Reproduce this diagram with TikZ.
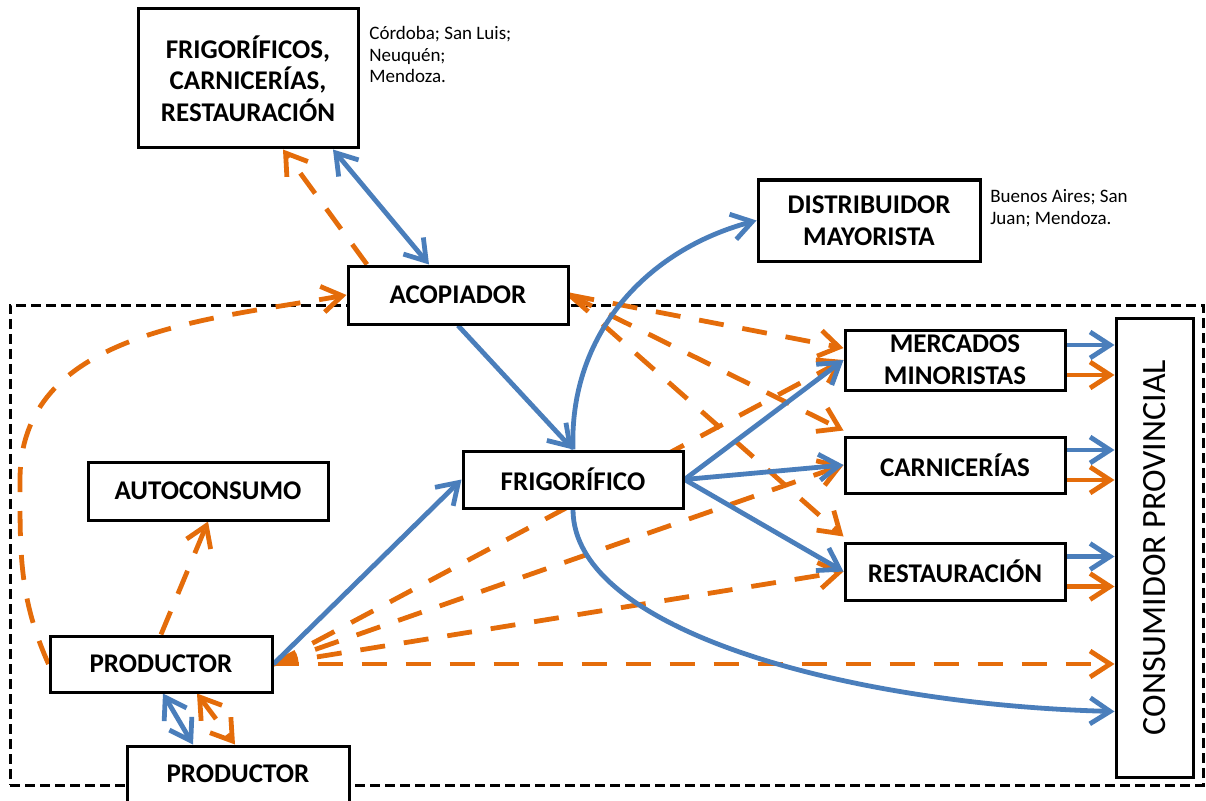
\documentclass[tikz,border=0pt]{standalone}
\usepackage{fontspec}
\setmainfont{Carlito}
\usetikzlibrary{positioning, arrows.meta, backgrounds}
\definecolor{azul}{HTML}{4A7EBB}
\definecolor{naranja}{HTML}{E46C0A}

\begin{document}
\begin{tikzpicture}[x=0.5pt, y=0.5pt, >={Straight Barb[length=10pt, width=13pt]},
		caja/.style={draw, rectangle, line width=1.5pt, fill=white, align=center, inner sep=0pt, font=\bfseries\fontsize{13.5}{15.8}\selectfont},
		nota/.style={anchor=north west, align=left, inner sep=0pt, font=\fontsize{9.5}{10.8}\selectfont},
		flujo/.style={line width=2.4pt, draw=azul},
		flujon/.style={line width=2.4pt, draw=naranja},
		flujod/.style={line width=2.4pt, draw=naranja, dash pattern=on 12.5pt off 9.5pt}]
		\useasboundingbox (0,0) rectangle (1206,800);

		\node[caja, minimum width=110pt, minimum height=69.5pt] (frigs) at (248,721.5) {FRIGORÍFICOS,\\CARNICERÍAS,\\RESTAURACIÓN};
		\node[nota] (notafrigs) at (369,774) {Córdoba; San Luis;\\Neuquén;\\Mendoza.};
		\node[caja, minimum width=111pt, minimum height=40.5pt] (dist) at (869,579.5) {DISTRIBUIDOR\\MAYORISTA};
		\node[nota] (notadist) at (990,611) {Buenos Aires; San\\Juan; Mendoza.};
		\node[caja, minimum width=110pt, minimum height=29pt] (acop) at (458,505) {ACOPIADOR};

		\node[caja, minimum width=110pt, minimum height=30pt] (merc) at (955,440) {MERCADOS\\MINORISTAS};
		\node[caja, minimum width=110pt, minimum height=28pt] (carn) at (955,335) {CARNICERÍAS};
		\node[caja, minimum width=110pt, minimum height=28.5pt] (rest) at (955,228.5) {RESTAURACIÓN};
		\node[caja, minimum width=38.5pt, minimum height=229.5pt] (cons) at (1154.5,252.5) {};
		\node[rotate=90, font=\fontsize{17}{20}\selectfont] (constexto) at (cons.center) {CONSUMIDOR PROVINCIAL};

		\node[caja, minimum width=110pt, minimum height=28.5pt] (frig) at (573,320.5) {FRIGORÍFICO};
		\node[caja, minimum width=120pt, minimum height=29pt] (auto) at (208,309) {AUTOCONSUMO};
		\node[caja, minimum width=111pt, minimum height=28pt] (prod) at (161,136) {PRODUCTOR};
		\node[caja, minimum width=111pt, minimum height=28pt] (prod2) at (238,26) {PRODUCTOR};
		\coordinate (rodeo) at (20,320);

		\begin{pgfonlayer}{background}
		\node[draw, line width=1.5pt, dash pattern=on 5pt off 2.5pt, minimum width=596.5pt, minimum height=240pt, inner sep=0pt] (zona) at (606.5,255) {};

		% naranja
		\draw[flujod, ->] (prod.west) to[out=114, in=-90] (rodeo) to[out=90, in=190] (acop.west);
		\draw[flujod, ->] ([xshift=-45.5pt]acop.north) -- ([xshift=17.5pt]frigs.south);
		\draw[flujod, ->] (prod.north) -- (auto.south);
		\draw[flujod, <->] ([xshift=18pt]prod.south) -- ([xshift=-1.5pt]prod2.north);
		\draw[flujod, ->] (acop.east) -- ([yshift=6pt]merc.west);
		\draw[flujod, ->] (acop.east) -- ([yshift=2.5pt]carn.north west);
		\draw[flujod, ->] (acop.east) -- ([yshift=2.5pt]rest.north west);
		\draw[flujod, ->] (prod.east) -- (merc.west);
		\draw[flujod, ->] (prod.east) -- (carn.west);
		\draw[flujod, ->] (prod.east) -- (rest.west);
		\draw[flujod, ->] (prod.east) -- (prod.east -| cons.west);
		\draw[flujon, ->] ([yshift=-7.5pt]merc.east) -- ([yshift=-7.5pt]merc.east -| cons.west);
		\draw[flujon, ->] ([yshift=-7.5pt]carn.east) -- ([yshift=-7.5pt]carn.east -| cons.west);
		\draw[flujon, ->] ([yshift=-7.5pt]rest.east) -- ([yshift=-7.5pt]rest.east -| cons.west);

		% azul
		\draw[flujo, <->] ([xshift=42.5pt]frigs.south) -- ([xshift=-14.5pt]acop.north);
		\draw[flujo, ->] (acop.south) -- (frig.north);
		\draw[flujo, ->] (frig.north) to[out=92, in=195] (dist.west);
		\draw[flujo, ->] (frig.south) .. controls +(0,-121) and +(-266,7) .. ([yshift=-82pt]cons.west);
		\draw[flujo, ->] (prod.east) -- (frig.west);
		\draw[flujo, <->] ([xshift=1pt]prod.south) -- ([xshift=-22.5pt]prod2.north);
		\draw[flujo, ->] (frig.east) -- (merc.west);
		\draw[flujo, ->] (frig.east) -- (carn.west);
		\draw[flujo, ->] (frig.east) -- (rest.west);
		\draw[flujo, ->] ([yshift=7.5pt]merc.east) -- ([yshift=7.5pt]merc.east -| cons.west);
		\draw[flujo, ->] ([yshift=7.5pt]carn.east) -- ([yshift=7.5pt]carn.east -| cons.west);
		\draw[flujo, ->] ([yshift=7.5pt]rest.east) -- ([yshift=7.5pt]rest.east -| cons.west);
		\end{pgfonlayer}
	\end{tikzpicture}
\end{document}
